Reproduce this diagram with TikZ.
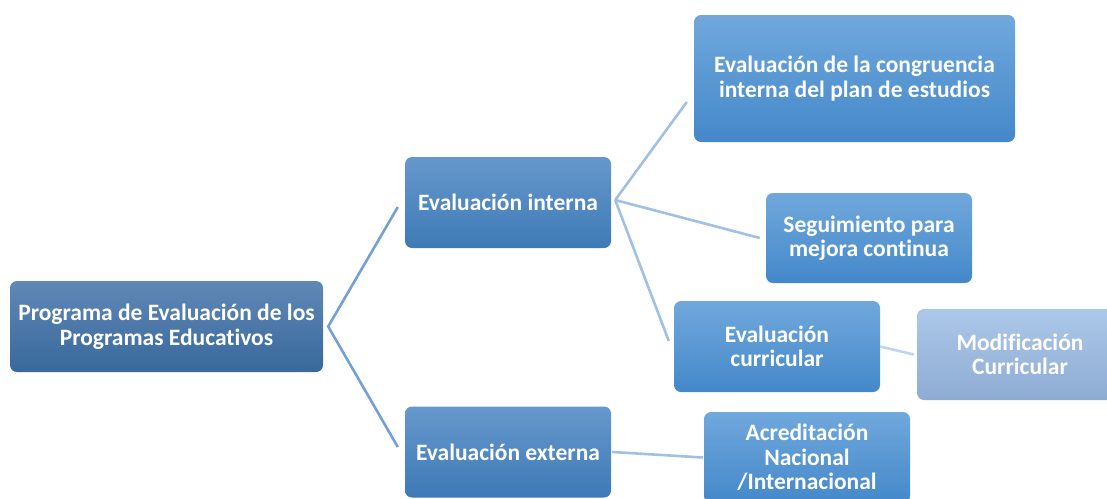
\documentclass[tikz,border=0pt]{standalone}
\usepackage{fontspec}
\setmainfont{Carlito}[Ligatures=NoCommon]
\definecolor{rootTop}{RGB}{96,136,182}
\definecolor{rootBot}{RGB}{56,104,156}
\definecolor{oneTop}{RGB}{102,152,204}
\definecolor{oneBot}{RGB}{62,122,182}
\definecolor{twoTop}{RGB}{112,168,220}
\definecolor{twoBot}{RGB}{68,136,202}
\definecolor{modTop}{RGB}{172,200,233}
\definecolor{modBot}{RGB}{142,171,211}
\definecolor{linkDark}{RGB}{115,160,214}
\definecolor{linkLight}{RGB}{160,192,228}
\definecolor{linkPale}{RGB}{192,212,236}
\begin{document}
\begin{tikzpicture}[
        x=1pt,y=-1pt,
        font=\fontsize{23.5}{24.5}\selectfont\bfseries,
        box/.style={rounded corners=7pt,text=white,align=center,inner sep=0pt,minimum width=206pt,minimum height=91pt},
        rootbox/.style={box,top color=rootTop,bottom color=rootBot,minimum width=313pt},
        onebox/.style={box,top color=oneTop,bottom color=oneBot},
        twobox/.style={box,top color=twoTop,bottom color=twoBot},
        modbox/.style={box,top color=modTop,bottom color=modBot},
        link/.style={line width=2.6pt,draw=linkDark},
        sublink/.style={line width=2.6pt,draw=linkLight},
        palelink/.style={line width=2.6pt,draw=linkPale}]

    \useasboundingbox (0,0) rectangle (1107,498);
    \clip (0,0) rectangle (1107,498);

    % boxes
    \node[rootbox] (prog) at (166.5,326.5) {Programa de Evaluación de los\\Programas Educativos};
    \node[onebox] (interna) at (508,202.5) {Evaluación interna};
    \node[onebox] (externa) at (508,452) {Evaluación externa};
    \node[twobox,minimum width=321pt,minimum height=127pt] (congruencia) at (854.5,78.5) {Evaluación de la congruencia\\interna del plan de estudios};
    \node[twobox,minimum height=90pt] (seguimiento) at (869,238) {Seguimiento para\\mejora continua};
    \node[twobox] (curricular) at (777,346.5) {Evaluación\\curricular};
    \node[modbox] (modificacion) at (1020,354.5) {Modificación\\Curricular};
    \node[twobox] (acreditacion) at (807,457.5) {Acreditación\\Nacional\\/Internacional};

    % connectors
    \coordinate (progfork) at ([xshift=5pt]prog.east);
    \coordinate (internafork) at ([xshift=4pt,yshift=2.5pt]interna.east);
    \draw[link] ([xshift=-7pt,yshift=-4.5pt]interna.west) -- (progfork) -- ([xshift=-7pt,yshift=5pt]externa.west);
    \draw[sublink] (internafork) -- ([xshift=-7pt,yshift=-23.5pt]congruencia.west);
    \draw[sublink] (internafork) -- ([xshift=-6pt]seguimiento.west);
    \draw[sublink] (internafork) -- ([xshift=-5pt,yshift=5.5pt]curricular.west);
    \draw[palelink] (curricular.east) -- ([xshift=-3pt]modificacion.west);
    \draw[sublink] ([xshift=1pt]externa.east) -- ([xshift=-1pt]acreditacion.west);
\end{tikzpicture}
\end{document}
